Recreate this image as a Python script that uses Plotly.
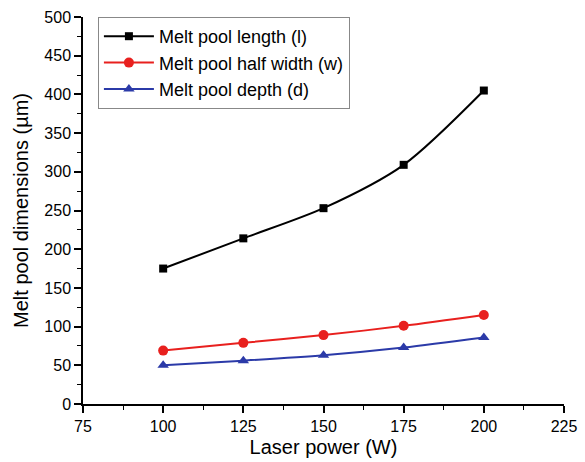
import plotly.graph_objects as go

power = [100, 125, 150, 175, 200]
length_l = [175, 214, 253, 309, 405]
half_width_w = [69, 79, 89, 101, 115]
depth_d = [50, 56, 63, 73, 86]

fig = go.Figure()
fig.add_trace(go.Scatter(x=power, y=length_l, name="Melt pool length (l)", mode="lines+markers",
                         line=dict(color="black", width=2, shape="spline", smoothing=0.8),
                         marker=dict(symbol="square", size=8, color="black")))
fig.add_trace(go.Scatter(x=power, y=half_width_w, name="Melt pool half width (w)", mode="lines+markers",
                         line=dict(color="#e8201e", width=2, shape="spline", smoothing=0.8),
                         marker=dict(symbol="circle", size=10, color="#e8201e")))
fig.add_trace(go.Scatter(x=power, y=depth_d, name="Melt pool depth (d)", mode="lines+markers",
                         line=dict(color="#2b3aa8", width=2, shape="spline", smoothing=0.8),
                         marker=dict(symbol="triangle-up", size=10, color="#2b3aa8")))

axis_common = dict(showgrid=False, zeroline=False, showline=True, linecolor="black", linewidth=1.5,
                   ticks="outside", ticklen=7, tickwidth=1.5, tickcolor="black", automargin=False,
                   tickfont=dict(family="Arial", size=16, color="black"))
fig.update_xaxes(range=[75, 225], dtick=25, title=dict(text="Laser power (W)", font=dict(family="Arial", size=20, color="black"), standoff=6),
                 minor=dict(ticks="outside", ticklen=4, tickcolor="black", tickwidth=1.2, dtick=12.5),
                 **axis_common)
fig.update_yaxes(range=[0, 500], dtick=50, title=dict(text="Melt pool dimensions (µm)", font=dict(family="Arial", size=20, color="black"), standoff=10),
                 minor=dict(ticks="outside", ticklen=4, tickcolor="black", tickwidth=1.2, dtick=25),
                 **axis_common)
fig.update_layout(width=585, height=462, margin=dict(l=83, r=21, t=17, b=58),
                  plot_bgcolor="white", paper_bgcolor="white",
                  legend=dict(x=0.031, y=1.0, xanchor="left", yanchor="top", bgcolor="white",
                              bordercolor="#888888", borderwidth=1,
                              font=dict(family="Arial", size=18, color="black"),
                              tracegroupgap=0, itemwidth=50),
                  showlegend=True)
fig.write_html("out.html")
